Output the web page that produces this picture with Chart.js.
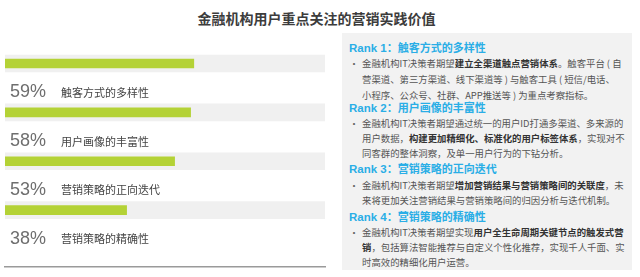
<!DOCTYPE html>
<html>
<head>
<meta charset="utf-8">
<script src="https://cdn.jsdelivr.net/npm/chart.js@4.4.0/dist/chart.umd.min.js"></script>
<style>
  html, body { margin: 0; padding: 0; background: #fff; }
  body { width: 640px; height: 277px; position: relative; overflow: hidden;
         font-family: "Noto Sans CJK SC", "Liberation Sans", sans-serif; }
  #title { position: absolute; left: 0; top: 7px; width: 633px; text-align: center;
           font-size: 14px; font-weight: bold; color: #3c3c3c; line-height: 22px; }
  #chartBox { position: absolute; left: 0; top: 0; width: 335px; height: 277px; }
  #panel { position: absolute; left: 342px; top: 33px; width: 290px; height: 237px; background: #f2f2f2; }
  .rank { position: absolute; left: 349px; font-size: 11.5px; font-weight: bold; color: #2aaee6;
          line-height: 16px; white-space: nowrap; font-family: "Liberation Sans", "Noto Sans CJK SC", sans-serif; }
  .rank span { font-family: "Noto Sans CJK SC", sans-serif; font-size: 11px; }
  .ln { position: absolute; left: 362px; font-size: 9.4px; color: #555; line-height: 15px; white-space: nowrap; }
  .ln b { color: #333; }
  .dot { position: absolute; left: 349px; font-size: 10px; color: #666; line-height: 15px; }
</style>
</head>
<body>
<div id="title">金融机构用户重点关注的营销实践价值</div>
<div id="chartBox"><canvas id="chart"></canvas></div>
<div id="panel"></div>

<div class="rank" style="top:39px">Rank 1<span>：触客方式的多样性</span></div>
<div class="dot" style="top:56px">•</div>
<div class="ln" style="top:56px">金融机构IT决策者期望<b>建立全渠道触点营销体系</b>。触客平台 ( 自</div>
<div class="ln" style="top:72px">营渠道、第三方渠道、线下渠道等 ) 与触客工具 ( 短信/电话、</div>
<div class="ln" style="top:88px">小程序、公众号、社群、APP推送等 ) 为重点考察指标。</div>

<div class="rank" style="top:99px">Rank 2<span>：用户画像的丰富性</span></div>
<div class="dot" style="top:116px">•</div>
<div class="ln" style="top:116px">金融机构IT决策者期望通过统一的用户ID打通多渠道、多来源的</div>
<div class="ln" style="top:131px">用户数据，<b>构建更加精细化、标准化的用户标签体系</b>，实现对不</div>
<div class="ln" style="top:146px">同客群的整体洞察，及单一用户行为的下钻分析。</div>

<div class="rank" style="top:160px">Rank 3<span>：营销策略的正向迭代</span></div>
<div class="dot" style="top:178px">•</div>
<div class="ln" style="top:178px">金融机构IT决策者期望<b>增加营销结果与营销策略间的关联度</b>，未</div>
<div class="ln" style="top:193px">来将更加关注营销结果与营销策略间的归因分析与迭代机制。</div>

<div class="rank" style="top:208px">Rank 4<span>：营销策略的精确性</span></div>
<div class="dot" style="top:225px">•</div>
<div class="ln" style="top:225px">金融机构IT决策者期望实现<b>用户全生命周期关键节点的触发式营</b></div>
<div class="ln" style="top:240px"><b>销</b>，包括算法智能推荐与自定义个性化推荐，实现千人千面、实</div>
<div class="ln" style="top:255px">时高效的精细化用户运营。</div>

<script>
// chart data
const categories = ['触客方式的多样性', '用户画像的丰富性', '营销策略的正向迭代', '营销策略的精确性'];
const values = [59, 58, 53, 38];
const trackValues = [100, 100, 100, 100];

// labels under each bar: "59%  触客方式的多样性"
const rowLabels = {
    id: 'rowLabels',
    afterDatasetsDraw(chart) {
        const ctx = chart.ctx;
        const yScale = chart.scales.y;
        ctx.save();
        ctx.textBaseline = 'middle';
        categories.forEach((name, i) => {
            const y = yScale.getPixelForValue(i) + 29;
            ctx.fillStyle = '#6e6e6e';
            ctx.font = '18px "Liberation Sans", sans-serif';
            ctx.fillText(values[i] + '%', 10, y);
            ctx.fillStyle = '#444';
            ctx.font = '11px "Noto Sans CJK SC", sans-serif';
            ctx.fillText(name, 61, y);
        });
        ctx.restore();
    }
};

const ctx = document.getElementById('chart').getContext('2d');
new Chart(ctx, {
    type: 'bar',
    data: {
        datasets: [{
            label: 'value',
            data: values.map((v, i) => ({ x: v, y: i })),
            backgroundColor: '#b4d236',
            barThickness: 9,
            grouped: false,
            order: 1
        }, {
            label: 'track',
            data: trackValues.map((v, i) => ({ x: v, y: i })),
            backgroundColor: '#f0f0f0',
            barThickness: 17,
            grouped: false,
            order: 2
        }]
    },
    options: {
        indexAxis: 'y',
        responsive: true,
        maintainAspectRatio: false,
        animation: false,
        layout: { padding: { left: 5, right: 10, top: 44, bottom: 10 } },
        scales: {
            x: {
                min: 0,
                max: 100,
                ticks: { display: false },
                grid: { display: false, drawTicks: false },
                border: { display: true, color: '#9a9a9a', width: 1.5 }
            },
            y: {
                type: 'linear',
                reverse: true,
                min: -0.145,
                max: 3.909,
                display: false
            }
        },
        plugins: {
            legend: { display: false },
            tooltip: { enabled: false }
        }
    },
    plugins: [rowLabels]
});
</script>
</body>
</html>
